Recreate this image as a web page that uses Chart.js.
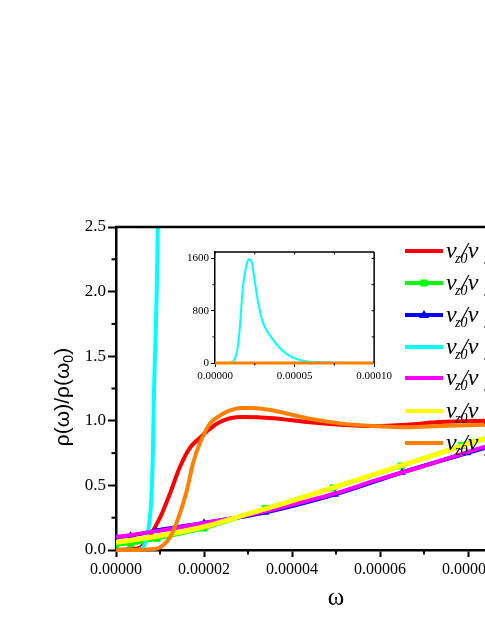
<!DOCTYPE html>
<html>
<head>
<meta charset="utf-8">
<script src="https://cdn.jsdelivr.net/npm/chart.js@4.4.1/dist/chart.umd.min.js"></script>
<style>
  html, body { margin: 0; padding: 0; background: #fff; overflow: hidden; }
  #wrap { position: relative; width: 485px; height: 627px; overflow: hidden; background: #fff; }
  #main { position: absolute; left: 0; top: 0; }
  #inset { position: absolute; left: 170px; top: 240px; }
</style>
</head>
<body>
<div id="wrap">
  <canvas id="main" width="620" height="627"></canvas>
  <canvas id="inset" width="225" height="150"></canvas>
</div>
<script>
// values (omega on x, rho(omega)/rho(omega0) on y)
const redX = [0, 3e-6, 5.5e-6, 7.7e-6, 1.0e-5, 1.23e-5, 1.45e-5, 1.68e-5, 1.91e-5, 2.14e-5, 2.36e-5, 2.59e-5, 2.89e-5, 3.57e-5, 4.34e-5, 5.09e-5, 5.84e-5, 6.61e-5, 7.36e-5, 8.39e-5, 1e-4];
const redY = [0, 0.005, 0.02, 0.11, 0.25, 0.44, 0.64, 0.79, 0.87, 0.94, 0.99, 1.02, 1.03, 1.02, 0.99, 0.97, 0.96, 0.97, 0.99, 1.0, 1.01];

const greenX = [0, 3.4e-6, 9.3e-6, 2.0e-5, 3.39e-5, 4.93e-5, 6.48e-5, 7.86e-5, 9.4e-5, 1e-4];
const greenY = [0.045, 0.05, 0.09, 0.17, 0.32, 0.48, 0.65, 0.81, 0.97, 1.03];

const blueX = [0, 3.3e-6, 9.1e-6, 2.0e-5, 3.39e-5, 4.98e-5, 6.5e-5, 7.98e-5, 9.5e-5, 1e-4];
const blueY = [0.10, 0.11, 0.15, 0.21, 0.29, 0.43, 0.60, 0.75, 0.90, 0.95];

const cyanX = [0, 5e-6, 6.6e-6, 7.3e-6, 8.0e-6, 8.4e-6, 8.6e-6, 9.5e-6, 1.06e-5, 1.2e-5, 1.38e-5, 1.56e-5, 1.75e-5, 2.0e-5, 2.15e-5, 2.3e-5, 2.5e-5, 2.7e-5, 3.0e-5, 3.56e-5, 4.2e-5, 4.8e-5, 5.6e-5, 6.7e-5, 8e-5, 1e-4];
const cyanY = [0, 0, 0.05, 0.15, 0.38, 0.77, 1.16, 2.5, 8, 50, 170, 540, 1150, 1520, 1590, 1550, 1250, 940, 630, 385, 200, 95, 30, 10, 4, 1];

const magentaX = [0, 1e-5, 2e-5, 3e-5, 4e-5, 5e-5, 6e-5, 7e-5, 8e-5, 9e-5, 1e-4];
const magentaY = [0.10, 0.15, 0.21, 0.27, 0.35, 0.44, 0.55, 0.65, 0.76, 0.86, 0.96];

const yellowX = [0, 1e-5, 2e-5, 3e-5, 4e-5, 5e-5, 6e-5, 7e-5, 8e-5, 9e-5, 1e-4];
const yellowY = [0.06, 0.11, 0.18, 0.28, 0.38, 0.49, 0.60, 0.71, 0.82, 0.93, 1.04];

const orangeX = [0, 5e-6, 7.7e-6, 1.0e-5, 1.23e-5, 1.45e-5, 1.61e-5, 1.75e-5, 1.91e-5, 2.14e-5, 2.36e-5, 2.59e-5, 2.82e-5, 3.11e-5, 3.57e-5, 4.34e-5, 5.09e-5, 5.84e-5, 6.61e-5, 7.36e-5, 8.39e-5, 1e-4];
const orangeY = [0, 0, 0.005, 0.02, 0.1, 0.28, 0.46, 0.67, 0.83, 0.98, 1.04, 1.08, 1.1, 1.1, 1.08, 1.02, 0.98, 0.96, 0.95, 0.96, 0.97, 0.98];

const insetOrangeX = [0, 1e-4];
const insetOrangeY = [0, 0];

const xMinor = [1e-5, 3e-5, 5e-5, 7e-5, 9e-5];
const yMinor = [0.25, 0.75, 1.25, 1.75, 2.25];
const insetXTicks = [0, 5e-5, 1e-4];
const insetYTicks = [0, 800, 1600];
const insetXMinor = [2.5e-5, 7.5e-5];
const insetYMinor = [400, 1200];

const serif = '"Liberation Serif", "Times New Roman", serif';
const sans = '"Liberation Sans", Arial, sans-serif';

function pts(xs, ys) {
  return xs.map((x, i) => ({ x, y: ys[i] }));
}

function series(label, xs, ys, color, width, order, extra) {
  return Object.assign({
    label,
    data: pts(xs, ys),
    borderColor: color,
    backgroundColor: color,
    borderWidth: width,
    pointRadius: 0,
    pointBorderWidth: 0,
    order,
    clip: { left: 0, top: 0, right: 0, bottom: 5 },
  }, extra || {});
}

const markEvery = (xs, r) => xs.map((_, i) => (i < xs.length - 1 ? r : 0));

const mainSets = [
  series('red', redX, redY, '#ff0000', 4, 6),
  series('green', greenX, greenY, '#00ff00', 4, 5, { pointStyle: 'rect', pointRadius: markEvery(greenX, 5) }),
  series('blue', blueX, blueY, '#0000ff', 4, 4, { pointStyle: 'triangle', pointRadius: markEvery(blueX, 4.5) }),
  series('cyan', cyanX, cyanY, '#00ffff', 4, 3),
  series('magenta', magentaX, magentaY, '#ff00ff', 4, 2),
  series('yellow', yellowX, yellowY, '#ffff00', 5, 1),
  series('orange', orangeX, orangeY, '#ff8000', 4, 0),
];

function hLine(ctx, x1, y1, x2, y2) {
  ctx.beginPath();
  ctx.moveTo(x1, y1);
  ctx.lineTo(x2, y2);
  ctx.stroke();
}

// box, minor ticks, axis titles and legend of the main panel
const mainDecor = {
  id: 'mainDecor',
  afterDraw(chart) {
    const { ctx, chartArea: a, scales: { x, y } } = chart;
    ctx.save();
    ctx.strokeStyle = '#000';
    ctx.lineWidth = 2.5;
    hLine(ctx, a.left - 1, a.top, a.right, a.top);
    hLine(ctx, a.right, a.top, a.right, a.bottom);
    ctx.lineWidth = 2;
    xMinor.forEach((v) => {
      const px = x.getPixelForValue(v);
      hLine(ctx, px, a.bottom, px, a.bottom + 4.5);
    });
    yMinor.forEach((v) => {
      const py = y.getPixelForValue(v);
      hLine(ctx, a.left - 4.5, py, a.left, py);
    });

    // y title
    ctx.fillStyle = '#000';
    ctx.save();
    ctx.translate(63, 397);
    ctx.rotate(-Math.PI / 2);
    ctx.textBaseline = 'middle';
    const t1 = 'ρ(ω)/ρ(ω';
    ctx.font = '14px ' + sans;
    const wSub = ctx.measureText('0').width;
    ctx.font = '21px ' + sans;
    const w1 = ctx.measureText(t1).width;
    const w2 = ctx.measureText(')').width;
    const sx = -(w1 + wSub + w2) / 2;
    ctx.textAlign = 'left';
    ctx.fillText(t1, sx, 0);
    ctx.font = '14px ' + sans;
    ctx.fillText('0', sx + w1, 6);
    ctx.font = '21px ' + sans;
    ctx.fillText(')', sx + w1 + wSub, 0);
    ctx.restore();

    // x title
    ctx.font = '25px ' + serif;
    ctx.textAlign = 'center';
    ctx.textBaseline = 'middle';
    ctx.fillText('ω', (a.left + a.right) / 2, 598);

    // legend
    const rows = [251, 283, 315, 347, 378, 411, 443];
    chart.data.datasets.forEach((ds, i) => {
      const cy = rows[i];
      ctx.strokeStyle = ds.borderColor;
      ctx.fillStyle = ds.borderColor;
      ctx.lineWidth = 4;
      hLine(ctx, 405, cy, 443, cy);
      if (ds.pointStyle === 'rect') ctx.fillRect(420.5, cy - 3.5, 7, 7);
      if (ds.pointStyle === 'triangle') {
        ctx.beginPath();
        ctx.moveTo(424, cy - 5);
        ctx.lineTo(429, cy + 3);
        ctx.lineTo(419, cy + 3);
        ctx.closePath();
        ctx.fill();
      }
      ctx.fillStyle = '#000';
      ctx.textAlign = 'left';
      ctx.textBaseline = 'alphabetic';
      ctx.font = 'italic 24px ' + serif;
      ctx.fillText('v', 446, cy + 7);
      ctx.font = 'italic 14px ' + serif;
      ctx.fillText('z0', 455, cy + 12);
      ctx.font = 'italic 24px ' + serif;
      ctx.fillText('/v', 461, cy + 7);
      ctx.font = 'italic 14px ' + serif;
      ctx.fillText('s', 484, cy + 13);
    });
    ctx.restore();
  },
};

new Chart(document.getElementById('main').getContext('2d'), {
  type: 'line',
  data: { datasets: mainSets },
  plugins: [mainDecor],
  options: {
    responsive: false,
    animation: false,
    devicePixelRatio: 1,
    layout: { padding: { top: 227, right: 64, bottom: 0, left: 0 } },
    plugins: { legend: { display: false }, tooltip: { enabled: false } },
    elements: { line: { cubicInterpolationMode: 'monotone' } },
    scales: {
      x: {
        type: 'linear',
        min: 0,
        max: 0.0001,
        afterFit: (s) => { s.height = 77; },
        ticks: {
          stepSize: 0.00002,
          includeBounds: false,
          autoSkip: false,
          maxRotation: 0,
          padding: 3,
          color: '#000',
          font: { family: serif, size: 16 },
          callback: (v) => v.toFixed(5),
        },
        grid: { drawOnChartArea: false, tickLength: 7, tickWidth: 2, tickColor: '#000' },
        border: { color: '#000', width: 2.5 },
      },
      y: {
        type: 'linear',
        min: 0,
        max: 2.5,
        afterFit: (s) => { s.width = 116; },
        ticks: {
          stepSize: 0.5,
          includeBounds: false,
          padding: 2,
          color: '#000',
          font: { family: serif, size: 17 },
          callback: (v) => v.toFixed(1),
        },
        grid: { drawOnChartArea: false, tickLength: 8, tickWidth: 2, tickColor: '#000' },
        border: { color: '#000', width: 2.5 },
      },
    },
  },
});

// inset panel
const insetDecor = {
  id: 'insetDecor',
  afterDraw(chart) {
    const { ctx, chartArea: a, scales: { x, y } } = chart;
    ctx.save();
    ctx.strokeStyle = '#000';
    ctx.lineWidth = 1.5;
    hLine(ctx, a.left, a.top, a.right, a.top);
    hLine(ctx, a.right, a.top, a.right, a.bottom);
    ctx.lineWidth = 1;
    insetXMinor.forEach((v) => {
      const px = x.getPixelForValue(v);
      hLine(ctx, px, a.bottom, px, a.bottom + 2.5);
    });
    insetYMinor.forEach((v) => {
      const py = y.getPixelForValue(v);
      hLine(ctx, a.left - 2.5, py, a.left, py);
    });
    [0, 2.5e-5, 5e-5, 7.5e-5].forEach((v) => {
      const px = x.getPixelForValue(v);
      hLine(ctx, px, a.top, px, a.top + 2.5);
    });
    [400, 800, 1200, 1600].forEach((v) => {
      const py = y.getPixelForValue(v);
      hLine(ctx, a.right - 2.5, py, a.right, py);
    });
    ctx.restore();
  },
};

new Chart(document.getElementById('inset').getContext('2d'), {
  type: 'line',
  data: {
    datasets: [
      series('cyan', cyanX, cyanY, '#00ffff', 2, 1),
      series('orange', insetOrangeX, insetOrangeY, '#ff8000', 3, 0),
    ],
  },
  plugins: [insetDecor],
  options: {
    responsive: false,
    animation: false,
    devicePixelRatio: 1,
    layout: { padding: { top: 12, right: 20, bottom: 0, left: 0 } },
    plugins: { legend: { display: false }, tooltip: { enabled: false } },
    elements: { line: { cubicInterpolationMode: 'monotone' } },
    scales: {
      x: {
        type: 'linear',
        min: 0,
        max: 0.0001,
        afterFit: (s) => { s.height = 27; },
        afterBuildTicks: (s) => { s.ticks = insetXTicks.map((value) => ({ value })); },
        ticks: {
          autoSkip: false,
          maxRotation: 0,
          padding: 3,
          color: '#000',
          font: { family: serif, size: 11 },
          callback: (v) => v.toFixed(5),
        },
        grid: { drawOnChartArea: false, tickLength: 4, tickWidth: 1, tickColor: '#000' },
        border: { color: '#000', width: 1.5 },
      },
      y: {
        type: 'linear',
        min: 0,
        max: 1700,
        afterFit: (s) => { s.width = 45; },
        afterBuildTicks: (s) => { s.ticks = insetYTicks.map((value) => ({ value })); },
        ticks: {
          autoSkip: false,
          padding: 2,
          color: '#000',
          font: { family: serif, size: 11 },
          callback: (v) => String(v),
        },
        grid: { drawOnChartArea: false, tickLength: 4, tickWidth: 1, tickColor: '#000' },
        border: { color: '#000', width: 1.5 },
      },
    },
  },
});
</script>
</body>
</html>
